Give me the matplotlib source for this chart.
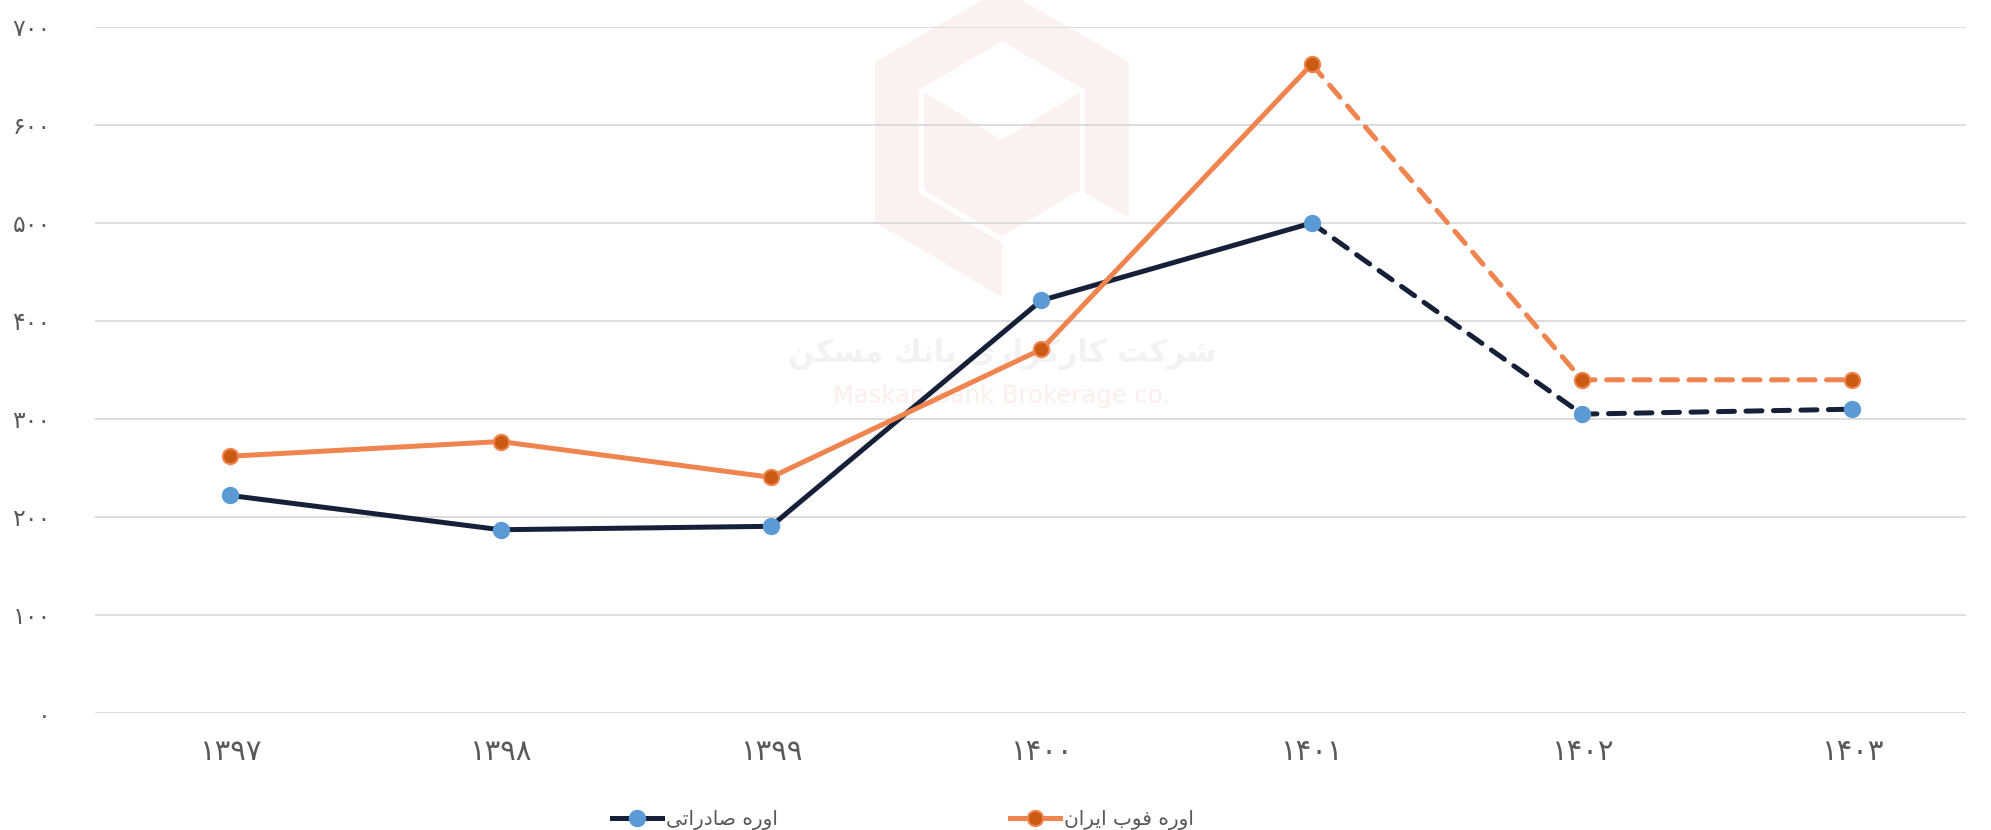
import matplotlib

matplotlib.use("Agg")
import matplotlib.pyplot as plt
from matplotlib.patches import Polygon

plt.rcParams["font.family"] = ["DejaVu Sans"]

# سال‌ها (شمسی) و قیمت‌ها
years = ["۱۳۹۷", "۱۳۹۸", "۱۳۹۹", "۱۴۰۰", "۱۴۰۱", "۱۴۰۲", "۱۴۰۳"]
export_urea = [222, 187, 190.5, 421, 500, 305, 310]
fob_iran = [262, 277, 240.5, 371, 662, 340, 340]
y_ticks = [0, 100, 200, 300, 400, 500, 600, 700]
y_labels = ["۰", "۱۰۰", "۲۰۰", "۳۰۰", "۴۰۰", "۵۰۰", "۶۰۰", "۷۰۰"]
# از این سال به بعد پیش‌بینی است (خط‌چین)
forecast_from = 4

# متن فارسی به ترتیب نمایشی و با حروف شکل‌یافته (matplotlib شکل‌دهی عربی ندارد)
label_export = "ﻰﺗﺍﺭﺩﺎﺻ ﻩﺭﻭﺍ"
label_fob = "ﻥﺍﺮﻳﺍ ﺏﻮﻓ ﻩﺭﻭﺍ"
brand_fa = "ﻦﻜﺴﻣ ﻚﻧﺎﺑ ﻯﺭﺍﺰﮔﺭﺎﻛ ﺖﻛﺮﺷ"
brand_en = "Maskan Bank Brokerage co."

NAVY = "#152039"
BLUE = "#5b9bd5"
ORANGE = "#f0844f"
ORANGE_DARK = "#c95c12"
GRID = "#d9d9d9"
TEXT = "#595959"

W, H = 1991, 830


def px(points):
    """pixel coords (top-left origin) -> figure fraction"""
    return [(x / W, 1 - y / H) for x, y in points]


def draw_logo(ax, fig):
    pink = "#fbf1ee"
    outer = [(1002, -11), (1129, 62), (1129, 218), (1085, 193), (1085, 90),
             (1002, 41), (919, 90), (919, 193), (1002, 243), (1002, 297),
             (875, 222), (875, 62)]
    inner = [(1002, 46), (1080, 92), (1080, 190), (1002, 236), (924, 190), (924, 92)]
    top = [(1002, 46), (1080, 92), (1002, 140), (924, 92)]
    for pts, fc in ((outer, pink), (inner, pink), (top, "white")):
        ax.add_patch(Polygon(px(pts), closed=True, transform=fig.transFigure,
                             facecolor=fc, edgecolor="none", zorder=0.2, clip_on=False))
    ax.text(1002 / W, 1 - 352 / H, brand_fa, transform=fig.transFigure,
            ha="center", va="center", fontsize=22, fontweight="bold",
            color="#f2f2f3", zorder=0.3)
    ax.text(1002 / W, 1 - 396 / H, brand_en, transform=fig.transFigure,
            ha="center", va="center", fontsize=17.5, color="#fcefeb", zorder=0.3)


fig = plt.figure(figsize=(W / 100, H / 100), dpi=100)
ax = fig.add_axes([95 / W, 1 - 713 / H, (1966 - 95) / W, (713 - 27) / H])
ax.set_facecolor("none")

draw_logo(ax, fig)

x = list(range(len(years)))
xs, xd = x[:forecast_from + 1], x[forecast_from:]

series = [
    (export_urea, NAVY, BLUE, BLUE, label_export),
    (fob_iran, ORANGE, ORANGE_DARK, ORANGE, label_fob),
]
handles = []
for vals, lc, mfc, mec, lab in series:
    ax.plot(xs, vals[:forecast_from + 1], color=lc, lw=3.6,
            solid_capstyle="round", zorder=3)
    ax.plot(xd, vals[forecast_from:], color=lc, lw=3.6, dashes=(3.2, 2.3),
            dash_capstyle="round", zorder=3)
    ax.plot(x, vals, ls="none", marker="o", ms=11, mfc=mfc, mec=mec,
            mew=1.5, zorder=4)
    h, = ax.plot([], [], color=lc, lw=3.6, marker="o", ms=11, mfc=mfc,
                 mec=mec, mew=1.5, label=lab)
    handles.append(h)

ax.set_xlim(-0.5, 6.42)
ax.set_ylim(0, 700)
ax.set_xticks(x)
ax.set_xticklabels(years, fontsize=21, color=TEXT)
ax.set_yticks(y_ticks)
ax.set_yticklabels(y_labels, fontsize=17, color=TEXT)
ax.tick_params(axis="x", length=0, pad=18)
ax.tick_params(axis="y", length=0, pad=32)
ax.set_axisbelow(True)
ax.grid(axis="y", color=GRID, lw=1.3, zorder=0.5)
for s in ax.spines.values():
    s.set_visible(False)

fig.legend(handles=handles, loc="center", bbox_to_anchor=(903 / W, 1 - 820 / H),
           ncol=2, frameon=False, fontsize=14.5, handlelength=2.5,
           columnspacing=11.5, handletextpad=0.2, labelcolor=TEXT)

fig.savefig("out.png", dpi=100, facecolor="white")
